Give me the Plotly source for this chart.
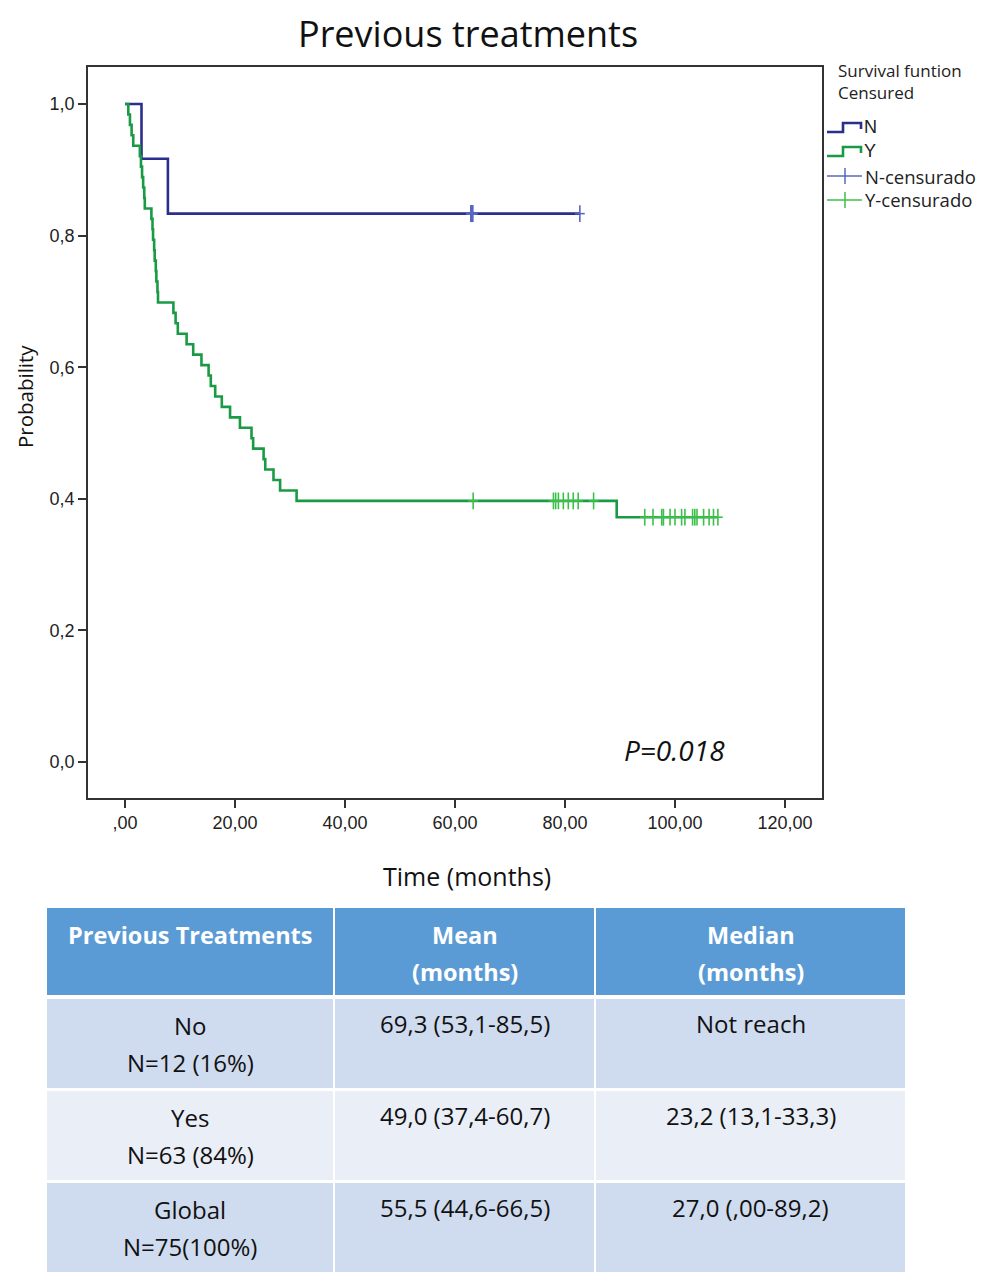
import numpy as np
import plotly.graph_objects as go

# ---------------- data ----------------
title_text = "Previous treatments"
x_title = "Time (months)"
y_title = "Probability"
x_tick_vals = [0, 20, 40, 60, 80, 100, 120]
x_tick_text = [",00", "20,00", "40,00", "60,00", "80,00", "100,00", "120,00"]
y_tick_vals = [0.0, 0.2, 0.4, 0.6, 0.8, 1.0]
y_tick_text = ["0,0", "0,2", "0,4", "0,6", "0,8", "1,0"]

# group N (no previous treatments), months
n_event_times = [3.0, 7.8]
n_censor_times = [62.9, 62.9, 63.0, 63.0, 63.0, 63.1, 63.1, 63.2, 63.2, 82.7]

# group Y (previous treatments), months
y_event_times = [0.6, 0.9, 1.2, 1.5,
                 2.7, 2.9, 3.1, 3.3, 3.5, 3.6,
                 4.8, 5.0, 5.1, 5.3, 5.4, 5.6, 5.7, 5.9, 6.0,
                 8.8, 9.2, 9.6, 11.2, 12.4, 13.9, 15.2, 15.6, 16.4,
                 17.6, 19.1, 20.9, 23.0, 23.3, 25.2, 25.5, 27.0, 28.2, 31.2,
                 89.4]
y_censor_times = [63.3, 77.9, 78.3, 78.8, 79.7, 80.6, 81.5, 82.4, 85.2,
                  94.5, 96.0, 97.6, 97.9, 99.1, 100.0, 101.2, 101.8,
                  103.2, 103.6, 104.0, 105.2, 106.2, 107.0, 107.8]

p_value_text = "P=0.018"

legend_title = ["Survival funtion", "Censured"]
legend_labels = ["N", "Y", "N-censurado", "Y-censurado"]

table_header = [["Previous Treatments"], ["Mean", "(months)"], ["Median", "(months)"]]
group_names = ["No", "Yes", "Global"]
group_sizes = ["N=12 (16%)", "N=63 (84%)", "N=75(100%)"]
group_means = ["69,3 (53,1-85,5)", "49,0 (37,4-60,7)", "55,5 (44,6-66,5)"]
group_medians = ["Not reach", "23,2 (13,1-33,3)", "27,0 (,00-89,2)"]

# ---------------- styles ----------------
N_LINE = "#2B2E8C"
Y_LINE = "#1B9A45"
N_CENS = "#5867C4"
Y_CENS = "#3DC04A"
W, H = 1000, 1281
OX, OY = 8, 8  # page body margin
FONT = "Open Sans"
ARIAL = "Liberation Sans, Arial"


def px(x):
    return (x - OX) / W


def py(y):
    return 1 - (y - OY) / H


def km(events, censors):
    events = np.array(events, float)
    censors = np.array(censors, float)
    all_t = np.concatenate([events, censors])
    xs, ys = [0.0], [1.0]
    s = 1.0
    for t in np.unique(events):
        at_risk = np.sum(all_t >= t)
        d = np.sum(events == t)
        s *= 1 - d / at_risk
        xs.append(t)
        ys.append(s)
    xs.append(all_t.max())
    ys.append(s)
    xs, ys = np.array(xs), np.array(ys)

    def surv(t):
        idx = np.searchsorted(xs[:-1], t, side="right") - 1
        return ys[idx]

    return xs, ys, np.array([surv(c) for c in censors])


fig = go.Figure()

for ev, ce, lc, cc, name in [(n_event_times, n_censor_times, N_LINE, N_CENS, "N"),
                              (y_event_times, y_censor_times, Y_LINE, Y_CENS, "Y")]:
    xs, ys, cs = km(ev, ce)
    fig.add_trace(go.Scatter(x=xs, y=ys, mode="lines", line=dict(color=lc, width=2.6, shape="hv"),
                             name=name, showlegend=False, hoverinfo="x+y"))
    fig.add_trace(go.Scatter(x=ce, y=cs, mode="markers", name=name + "-censurado", showlegend=False,
                             marker=dict(symbol="line-ns", size=12, line=dict(color=cc, width=1.6))))
    fig.add_trace(go.Scatter(x=ce, y=cs, mode="markers", showlegend=False, hoverinfo="skip",
                             marker=dict(symbol="line-ew", size=7, line=dict(color=cc, width=1.6))))

axis_common = dict(showgrid=False, zeroline=False, showline=True, mirror=True, linecolor="#333",
                   linewidth=1.5, ticks="outside", ticklen=8, tickcolor="#333", tickwidth=1.5,
                   tickfont=dict(family=ARIAL, size=18, color="#222"))
fig.update_layout(
    width=W, height=H,
    margin=dict(l=0, r=0, t=0, b=0),
    paper_bgcolor="white", plot_bgcolor="white",
    showlegend=False,
    xaxis=dict(domain=[px(88), px(822)], range=[-6.727, 126.727], tickvals=x_tick_vals,
               ticktext=x_tick_text, anchor="y", **axis_common),
    yaxis=dict(domain=[py(798), py(67)], range=[-0.0547, 1.0562], tickvals=y_tick_vals,
               ticktext=y_tick_text, anchor="x", **axis_common),
)

ann = []
shapes = []


def text(t, x, y, size, color="#111", family=FONT, xanchor="center", **kw):
    ann.append(dict(text=t, x=px(x), y=py(y), xref="paper", yref="paper", showarrow=False,
                    font=dict(family=family, size=size, color=color), xanchor=xanchor,
                    yanchor="middle", **kw))


# title anchored at the very top of the figure so it is not clipped
ann.append(dict(text=title_text, x=px(468), y=1.0, xref="paper", yref="paper", showarrow=False,
                font=dict(family=FONT, size=36, color="#111"), xanchor="center", yanchor="top",
                borderpad=0))
text(x_title, 467, 876, 25)
text(y_title, 25, 397, 20.5, textangle=-90)
ann.append(dict(text="<i>" + p_value_text + "</i>", x=109.5, y=0.018, xref="x", yref="y", showarrow=False,
                font=dict(family=FONT, size=28, color="#111"), xanchor="right", yanchor="middle"))

# legend
for i, t in enumerate(legend_title):
    text(t, 836, 70 + 23 * i, 17, color="#222", xanchor="left")
legend_colors = [N_LINE, Y_LINE, N_CENS, Y_CENS]
legend_y = [127, 151, 176, 200]
for i, (label, col, yy) in enumerate(zip(legend_labels, legend_colors, legend_y)):
    if i < 2:
        path = "M {} {} L {} {} L {} {} L {} {} L {} {}".format(
            px(827), py(yy + 5), px(843), py(yy + 5), px(843), py(yy - 4), px(861), py(yy - 4),
            px(861), py(yy + 2))
        shapes.append(dict(type="path", path=path, xref="paper", yref="paper",
                           line=dict(color=col, width=2.6)))
        text(label, 862, yy, 18, color="#222", family=ARIAL, xanchor="left")
    else:
        shapes.append(dict(type="line", x0=px(827), x1=px(862), y0=py(yy), y1=py(yy), xref="paper",
                           yref="paper", line=dict(color=col, width=1.5)))
        shapes.append(dict(type="line", x0=px(845), x1=px(845), y0=py(yy - 8), y1=py(yy + 8),
                           xref="paper", yref="paper", line=dict(color=col, width=1.5)))
        text(label, 863, yy, 18.5, color="#222", family=FONT, xanchor="left")

# table (drawn as cells)
col_edges = [(47, 333), (335, 594), (596, 905)]
row_edges = [(908, 995), (999, 1088), (1091, 1180), (1183, 1272)]
row_fills = ["#5B9BD5", "#CFDBEE", "#E9EEF7", "#CFDBEE"]
line_gap = 37
body_rows = [[[g, n], [m], [md]] for g, n, m, md in zip(group_names, group_sizes, group_means, group_medians)]
all_rows = [table_header] + body_rows
for r, ((y0, y1), fill) in enumerate(zip(row_edges, row_fills)):
    for c, (x0, x1) in enumerate(col_edges):
        shapes.append(dict(type="rect", x0=px(x0), x1=px(x1), y0=py(y0), y1=py(y1), xref="paper",
                           yref="paper", fillcolor=fill, line=dict(width=0), layer="below"))
        lines = all_rows[r][c]
        for k, t in enumerate(lines):
            if r == 0:
                text("<b>" + t + "</b>", (x0 + x1) / 2, y0 + 27 + line_gap * k, 23.5, color="white")
            else:
                text(t, (x0 + x1) / 2, y0 + 26 + line_gap * k - (2 if c > 0 else 0), 24, color="#111")

fig.update_layout(annotations=ann, shapes=shapes)

fig.write_html("out.html")
